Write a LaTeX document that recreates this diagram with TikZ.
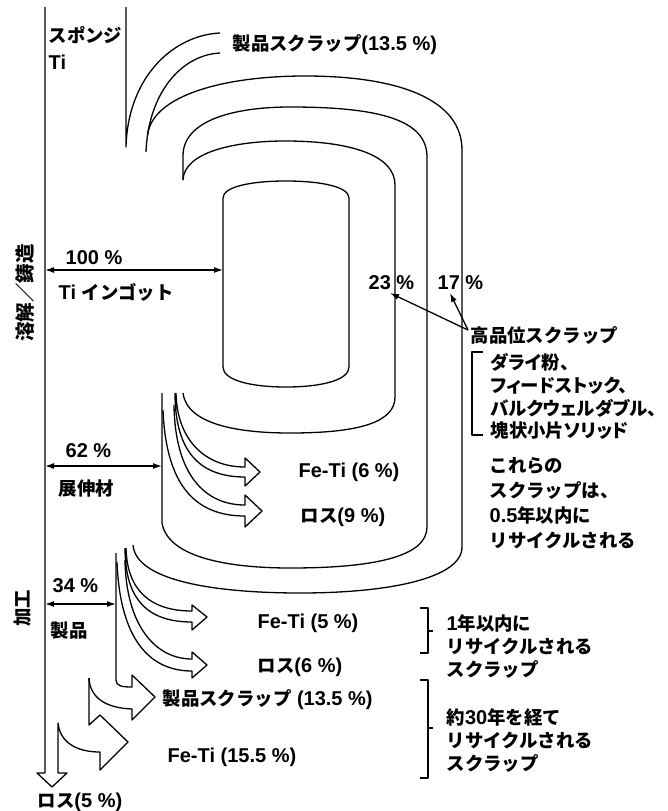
\documentclass[tikz,border=0pt]{standalone}
\usepackage{fontspec}
\setmainfont{Liberation Sans}
\newfontfamily\jp{Noto Sans CJK JP}
\newfontfamily\jpp[RawFeature=+palt]{Noto Sans CJK JP}
\usetikzlibrary{arrows.meta}
\newcommand\jt[1]{{\jp\fontsize{18.4}{22}\selectfont #1}}
\newcommand\jtp[1]{{\jpp\fontsize{18.4}{22}\selectfont #1}}
\begin{document}
\begin{tikzpicture}[x=1pt,y=-1pt,line width=1.3pt,line join=round,
  lab/.style={anchor=west,inner sep=0pt,text height=14pt,text depth=0pt,font=\fontsize{20}{22}\selectfont\bfseries},
  rlab/.style={lab,anchor=center,rotate=90},
  dbl/.style={{Latex[length=9pt,width=6pt]}-{Latex[length=9pt,width=6pt]}},
  sgl/.style={-{Latex[length=9pt,width=6pt]}}]
\useasboundingbox (0,0) rectangle (668,811);

% ---- texts ----
\node[lab] (sponge) at (48,35) {\jt{スポンジ}};
\node[lab] (ti) at (48,62) {Ti};
\node[lab] (pscrap1) at (232,43) {\jt{製品スクラップ}(13.5 \%)};
\node[rlab] (melt) at (25,293) {{\jp\fontsize{19.5}{22}\selectfont 溶解／鋳造}};
\node[lab] (p100) at (65,257) {100 \%};
\node[lab] (ingot) at (58,292) {Ti \jt{インゴット}};
\node[lab] (p23) at (368,282) {23 \%};
\node[lab] (p17) at (437,282) {17 \%};
\node[lab] (hq) at (470,335) {\jt{高品位スクラップ}};
\node[lab] (i1) at (490,362) {\jtp{ダライ粉、}};
\node[lab] (i2) at (490,385) {\jtp{フィードストック、}};
\node[lab] (i3) at (490,408) {\jtp{バルクウェルダブル、}};
\node[lab] (i4) at (490,430) {\jtp{塊状小片ソリッド}};
\node[lab] (p62) at (65,450) {62 \%};
\node[lab] (wrought) at (58,488) {\jt{展伸材}};
\node[lab] (feti6) at (298,470) {Fe-Ti (6 \%)};
\node[lab] (loss9) at (300,515) {\jt{ロス}(9 \%)};
\node[lab] (c1) at (489,465) {\jt{これらの}};
\node[lab] (c2) at (489,490) {\jt{スクラップは、}};
\node[lab] (c3) at (489,515) {0.5\jt{年以内に}};
\node[lab] (c4) at (489,540) {\jt{リサイクルされる}};
\node[lab] (p34) at (52,585) {34 \%};
\node[rlab] (kako) at (22,608) {\jt{加工}};
\node[lab] (prod) at (50,630) {\jt{製品}};
\node[lab] (feti5) at (257,621) {Fe-Ti (5 \%)};
\node[lab] (loss6) at (257,665) {\jt{ロス}(6 \%)};
\node[lab] (y1a) at (446,623) {1\jt{年以内に}};
\node[lab] (y1b) at (446,646) {\jt{リサイクルされる}};
\node[lab] (y1c) at (446,669) {\jt{スクラップ}};
\node[lab] (pscrap2) at (162,698) {\jt{製品スクラップ} (13.5 \%)};
\node[lab] (feti155) at (167,755) {Fe-Ti (15.5 \%)};
\node[lab] (y30a) at (446,717) {\jt{約}30\jt{年を経て}};
\node[lab] (y30b) at (446,740) {\jt{リサイクルされる}};
\node[lab] (y30c) at (446,763) {\jt{スクラップ}};
\node[lab] (loss5) at (37,800) {\jt{ロス}(5 \%)};

% ---- main line with bottom arrows ----
\draw (45,7) -- (45,773) -- (37,773) -- (52,787) -- (67,773) -- (58,773) -- (58,723)
  .. controls (60,742) and (76,752) .. (100,752) -- (100,770) -- (128,742) -- (100,715) -- (89,725) -- (89,678);
\draw (116,553) -- (116,680) .. controls (116,686) and (122,687) .. (132,687) -- (132,675) -- (155,697) -- (132,720) -- (132,709)
  .. controls (106,708) and (90,698) .. (89,678);

% ---- sponge Ti and top scrap arcs ----
\draw (126,7) -- (126,147) .. controls (128,75) and (175,35) .. (220,33);
\draw (146,152) .. controls (148,95) and (180,55) .. (220,53);

% ---- outer cylinder ----
\draw (133,545) .. controls (136,582) and (220,593) .. (300,593) .. controls (390,593) and (462,578) .. (462,547)
  -- (462,150) .. controls (462,100) and (400,76) .. (305,76) .. controls (225,76) and (152,95) .. (147.5,135.4);
% ---- second cylinder ----
\draw (162,393) -- (162,523) .. controls (168,558) and (230,568) .. (290,568) .. controls (380,568) and (427,555) .. (427,527)
  -- (427,157) .. controls (427,120) and (380,107) .. (290,107) .. controls (240,107) and (184,118) .. (183,155) -- (183,180);
% ---- third cylinder ----
\draw (183,393) .. controls (187,425) and (240,433) .. (290,433) .. controls (360,433) and (395,422) .. (395,397)
  -- (395,185) .. controls (395,155) and (350,141) .. (285,141) .. controls (235,141) and (184,152) .. (183,180);
% ---- ingot ----
\draw (223,198) -- (223,367) .. controls (223,380) and (250,387) .. (286,387) .. controls (322,387) and (349,380) .. (349,367)
  -- (349,198) .. controls (349,187) and (322,181) .. (286,181) .. controls (250,181) and (223,187) .. cycle;

% ---- curved hollow arrows (wrought) ----
\draw (176,393) .. controls (177,440) and (205,467) .. (245,467) -- (245,458) -- (260,472) -- (245,486) -- (245,477)
  .. controls (200,477) and (175,452) .. (175,393);
\draw (174,405) .. controls (175,475) and (205,505) .. (245,505) -- (245,495) -- (262,511) -- (245,527) -- (245,516)
  .. controls (195,516) and (166,485) .. (163,410);
% ---- curved hollow arrows (product) ----
\draw (126,548) .. controls (127,590) and (150,611) .. (192,611) -- (192,605) -- (207,617) -- (192,630) -- (192,622)
  .. controls (148,622) and (125,600) .. (125,548);
\draw (125,560) .. controls (126,625) and (155,659) .. (192,659) -- (192,652) -- (207,665) -- (192,678) -- (192,671)
  .. controls (150,671) and (120,640) .. (117,562);

% ---- double arrows ----
\coordinate (a1) at (45,270); \coordinate (b1) at (223,270);
\coordinate (a2) at (45,466); \coordinate (b2) at (162,466);
\coordinate (a3) at (45,604); \coordinate (b3) at (116,604);
\draw[dbl] (a1) -- (b1);
\draw[dbl] (a2) -- (b2);
\draw[dbl] (a3) -- (b3);

% ---- high quality scrap arrows ----
\coordinate (hqo) at (468,330);
\draw[sgl] (hqo) -- (390,293);
\draw[sgl] (hqo) -- (450,293);

% ---- brackets ----
\draw (483,352) -- (472,352) -- (472,435) -- (483,435);
\draw (420,608) -- (428,608) -- (428,653) -- (420,653);
\draw (428,631) -- (433,631);
\draw (420,680) -- (428,680) -- (428,778) -- (420,778);
\draw (428,728) -- (433,728);
\end{tikzpicture}
\end{document}
